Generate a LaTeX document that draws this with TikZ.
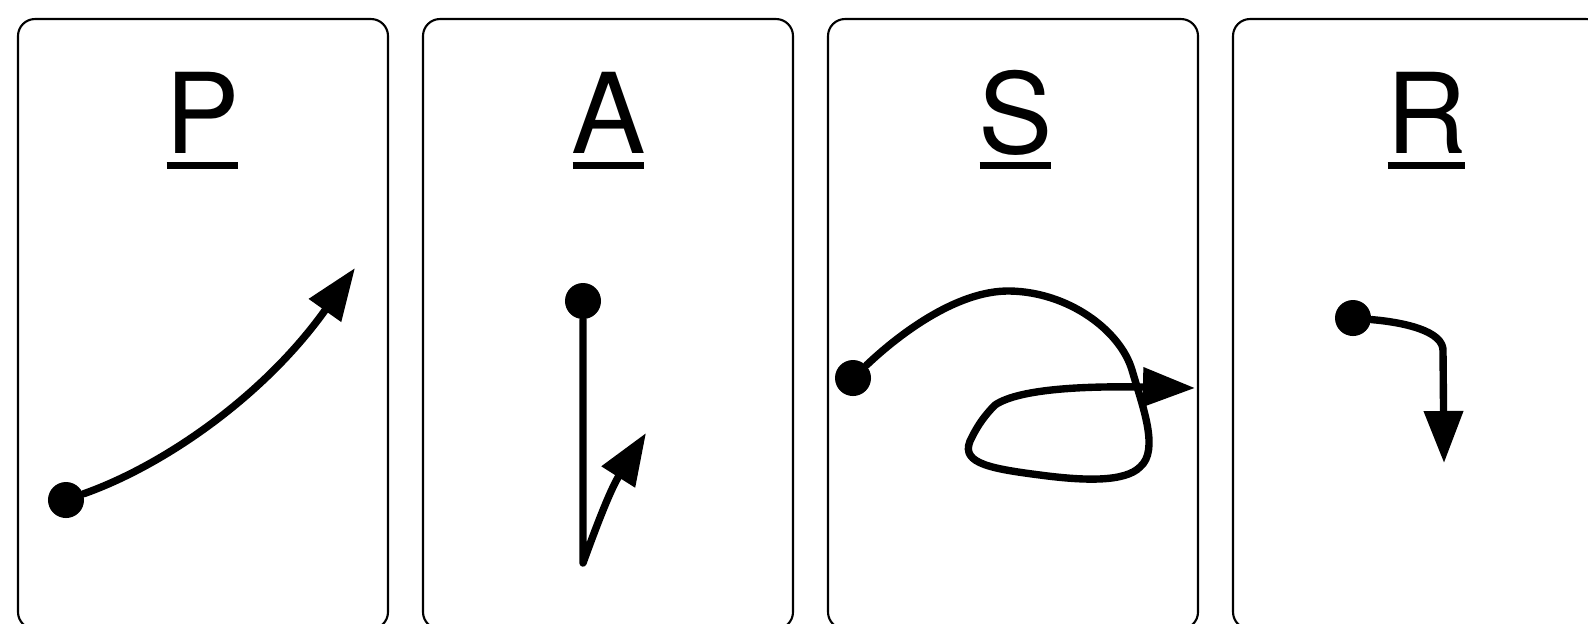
\documentclass[tikz,border=0pt]{standalone}
\usepackage{fontspec}
\setmainfont{TeX Gyre Heros}
\usetikzlibrary{arrows.meta,calc}

\begin{document}
\begin{tikzpicture}[x=0.01cm,y=-0.01cm,
  card/.style={draw,line width=0.6pt,rounded corners=0.17cm},
  lbl/.style={anchor=base,inner sep=0pt,font=\fontsize{31.7}{38}\selectfont},
  uline/.style={line width=2pt},
  dot/.style={circle,fill,inner sep=0pt,minimum size=0.36cm},
  flow/.style={line width=2.1pt,line join=round,line cap=round,
    -{Triangle[length=14.8pt,width=10.8pt]}}]
  \useasboundingbox (0,0) rectangle (1588,623);
  \clip (0,0) rectangle (1588,623);
  % the four cards
  \foreach \x in {18,423,828,1233}
    \draw[card] (\x,19) rectangle ++(370,610);
  % underlined letters
  \foreach \lab/\x in {P/202.5,A/608.5,S/1015.5,R/1426.5} {
    \node[lbl] (l\lab) at (\x,153) {\lab};
    \draw[uline] ($(l\lab.base west)+(2,12.5)$) -- ($(l\lab.base east)+(-2,12.5)$);
  }
  % P
  \node[dot] (pS) at (66,500) {};
  \coordinate (pE) at (355,268);
  \draw[flow] (pS) .. controls (165,465) and (265,395) .. (pE);
  % A
  \node[dot] (aS) at (583,301) {};
  \coordinate (aB) at (583,563);
  \coordinate (aE) at (646,433);
  \draw[flow] (aS) -- (aB) .. controls (595,530) and (610,490) .. (aE);
  % S
  \node[dot] (sS) at (853,378) {};
  \coordinate (sE) at (1195,388);
  \draw[flow] (sS) .. controls (895,338) and (955,290) .. (1010,291)
    .. controls (1068,292) and (1120,330) .. (1132,370)
    .. controls (1142,405) and (1160,450) .. (1140,467)
    .. controls (1125,482) and (1085,481) .. (1040,475)
    .. controls (985,468) and (958,462) .. (972,437)
    .. controls (978,425) and (985,415) .. (995,405)
    .. controls (1020,388) and (1090,386) .. (sE);
  % R
  \node[dot] (rS) at (1353,318) {};
  \coordinate (rK) at (1443,352);
  \coordinate (rE) at (1444,463);
  \draw[flow] (rS) .. controls (1400,322) and (1445,330) .. (rK) -- (rE);
\end{tikzpicture}
\end{document}
